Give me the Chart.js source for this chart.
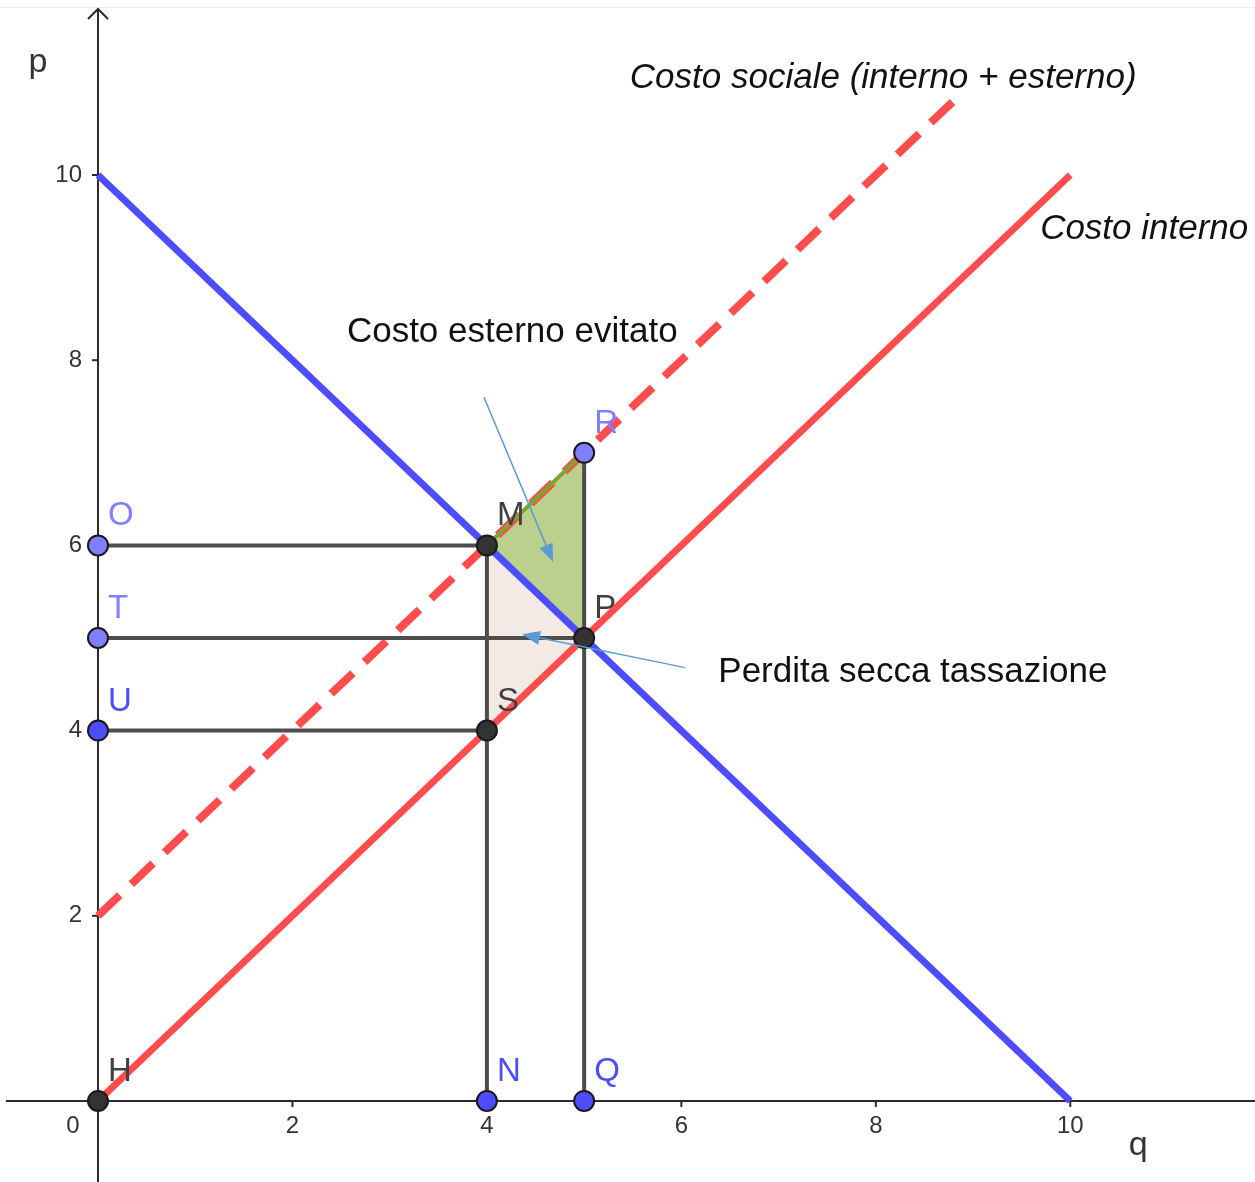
<!DOCTYPE html>
<html>
<head>
<meta charset="utf-8">
<script src="https://cdn.jsdelivr.net/npm/chart.js@4.4.0/dist/chart.umd.min.js"></script>
<style>
  body { margin: 0; background: #fff; }
  #wrap { position: relative; width: 1255px; height: 1182px; }
</style>
</head>
<body>
<div id="wrap"><canvas id="grafico"></canvas></div>
<script>
// curve (domanda, costo interno, costo sociale)
const domandaQ = [0, 10];
const domandaP = [10, 0];
const costoInternoQ = [0, 10];
const costoInternoP = [0, 10];
const costoSocialeQ = [0, 8.8];
const costoSocialeP = [2, 10.8];

// punti
const puntiNomi = ['H', 'N', 'Q', 'O', 'T', 'U', 'M', 'P', 'S', 'R'];
const puntiQ = [0, 4, 5, 0, 0, 0, 4, 5, 4, 5];
const puntiP = [0, 0, 0, 6, 5, 4, 6, 5, 4, 7];
const puntiColori = ['#333333', '#4d4dff', '#4d4dff', '#7f7fff', '#7f7fff', '#4d4dff', '#333333', '#333333', '#333333', '#7f7fff'];

// segmenti grigi [q1, p1, q2, p2]
const segmenti = [
  [0, 6, 4, 6],
  [0, 5, 5, 5],
  [0, 4, 4, 4],
  [4, 0, 4, 6],
  [5, 0, 5, 7]
];

// triangoli
const verdeQ = [4, 5, 5, 4];
const verdeP = [6, 7, 5, 6];
const rosaQ = [4, 5, 4, 4];
const rosaP = [6, 5, 4, 6];

const tickX = [2, 4, 6, 8, 10];
const tickY = [2, 4, 6, 8, 10];

// frecce [q1, p1, q2, p2]
const frecce = [
  [3.97, 7.60, 4.68, 5.82],
  [6.04, 4.68, 4.36, 5.04]
];

const testi = [
  { t: 'Costo sociale (interno + esterno)', q: 5.47, p: 11.04, italic: true },
  { t: 'Costo interno', q: 9.69, p: 9.41, italic: true },
  { t: 'Costo esterno evitato', q: 2.56, p: 8.30, italic: false },
  { t: 'Perdita secca tassazione', q: 6.38, p: 4.63, italic: false }
];

function pts(xs, ys) {
  return xs.map((x, i) => ({ x: x, y: ys[i] }));
}

const datasets = [];

// punti in cima
datasets.push({
  data: pts(puntiQ, puntiP),
  showLine: false,
  pointRadius: 10,
  pointBorderWidth: 2,
  pointBorderColor: '#1a1a1a',
  pointBackgroundColor: puntiColori,
  order: 0
});

datasets.push({
  data: pts([4, 5], [6, 7]),
  showLine: true,
  borderColor: '#79a832',
  borderWidth: 4,
  pointRadius: 0,
  order: 2
});

segmenti.forEach(s => {
  datasets.push({
    data: [{ x: s[0], y: s[1] }, { x: s[2], y: s[3] }],
    showLine: true,
    borderColor: '#4d4d4d',
    borderWidth: 4,
    pointRadius: 0,
    order: 3
  });
});

datasets.push({
  data: pts(domandaQ, domandaP),
  showLine: true,
  borderColor: '#4d4dff',
  borderWidth: 7,
  pointRadius: 0,
  order: 1
});
datasets.push({
  data: pts(costoInternoQ, costoInternoP),
  showLine: true,
  borderColor: '#ff4d4d',
  borderWidth: 7,
  pointRadius: 0,
  order: 4
});
datasets.push({
  data: pts(costoSocialeQ, costoSocialeP),
  showLine: true,
  borderColor: '#ff4d4d',
  borderWidth: 8,
  borderDash: [30, 16],
  pointRadius: 0,
  order: 4
});

datasets.push({
  data: pts(verdeQ, verdeP),
  showLine: true,
  borderWidth: 0,
  borderColor: 'rgba(0,0,0,0)',
  backgroundColor: '#bad08c',
  fill: 'shape',
  pointRadius: 0,
  order: 6
});
datasets.push({
  data: pts(rosaQ, rosaP),
  showLine: true,
  borderWidth: 0,
  borderColor: 'rgba(0,0,0,0)',
  backgroundColor: '#f3e9e5',
  fill: 'shape',
  pointRadius: 0,
  order: 6
});

const FONT = '"Liberation Sans", Arial, sans-serif';

const assi = {
  id: 'assi',
  beforeDatasetsDraw(chart) {
    const { ctx, scales: { x, y } } = chart;
    const x0 = x.getPixelForValue(0);
    const y0 = y.getPixelForValue(0);
    ctx.save();
    // bordo superiore leggero
    ctx.strokeStyle = '#eeeeee';
    ctx.lineWidth = 1;
    ctx.beginPath();
    ctx.moveTo(0, 7.5);
    ctx.lineTo(chart.width, 7.5);
    ctx.stroke();

    ctx.strokeStyle = '#2b2b2b';
    ctx.lineWidth = 2;
    ctx.beginPath();
    ctx.moveTo(x.left + 6, y0);
    ctx.lineTo(x.right, y0);
    ctx.moveTo(x0, y.bottom);
    ctx.lineTo(x0, y.top + 9);
    ctx.stroke();
    // freccia asse p
    ctx.beginPath();
    ctx.moveTo(x0 - 10, y.top + 19);
    ctx.lineTo(x0, y.top + 9);
    ctx.lineTo(x0 + 10, y.top + 19);
    ctx.stroke();

    ctx.fillStyle = '#333333';
    ctx.font = '24px ' + FONT;
    ctx.textBaseline = 'middle';
    ctx.textAlign = 'center';
    tickX.forEach(v => {
      const px = x.getPixelForValue(v);
      ctx.beginPath();
      ctx.moveTo(px, y0);
      ctx.lineTo(px, y0 + 6);
      ctx.stroke();
      ctx.fillText(String(v), px, y0 + 25);
    });
    ctx.fillText('0', x0 - 25, y0 + 25);
    ctx.textAlign = 'right';
    tickY.forEach(v => {
      const py = y.getPixelForValue(v);
      ctx.beginPath();
      ctx.moveTo(x0 - 6, py);
      ctx.lineTo(x0, py);
      ctx.stroke();
      ctx.fillText(String(v), x0 - 16, py);
    });

    ctx.font = '34px ' + FONT;
    ctx.textAlign = 'center';
    ctx.fillText('p', 38, 63);
    ctx.fillText('q', x.getPixelForValue(10.7), y0 + 45);
    ctx.restore();
  },
  afterDatasetsDraw(chart) {
    const { ctx, scales: { x, y } } = chart;
    ctx.save();
    // frecce blu
    ctx.strokeStyle = '#5b9bd5';
    ctx.fillStyle = '#5b9bd5';
    ctx.lineWidth = 1.5;
    frecce.forEach(f => {
      const x1 = x.getPixelForValue(f[0]), y1 = y.getPixelForValue(f[1]);
      const x2 = x.getPixelForValue(f[2]), y2 = y.getPixelForValue(f[3]);
      const a = Math.atan2(y2 - y1, x2 - x1);
      ctx.beginPath();
      ctx.moveTo(x1, y1);
      ctx.lineTo(x2 - 10 * Math.cos(a), y2 - 10 * Math.sin(a));
      ctx.stroke();
      ctx.beginPath();
      ctx.moveTo(x2, y2);
      ctx.lineTo(x2 - 18 * Math.cos(a) + 7 * Math.sin(a), y2 - 18 * Math.sin(a) - 7 * Math.cos(a));
      ctx.lineTo(x2 - 18 * Math.cos(a) - 7 * Math.sin(a), y2 - 18 * Math.sin(a) + 7 * Math.cos(a));
      ctx.closePath();
      ctx.fill();
    });

    // etichette punti
    ctx.font = '33px ' + FONT;
    ctx.textAlign = 'left';
    ctx.textBaseline = 'middle';
    puntiNomi.forEach((n, i) => {
      const px = x.getPixelForValue(puntiQ[i]);
      const py = y.getPixelForValue(puntiP[i]);
      ctx.fillStyle = puntiColori[i] === '#333333' ? '#404040' : puntiColori[i];
      ctx.fillText(n, px + 10, py - 29);
    });

    // testi
    ctx.fillStyle = '#111111';
    testi.forEach(t => {
      ctx.font = (t.italic ? 'italic ' : '') + '35px ' + FONT;
      ctx.fillText(t.t, x.getPixelForValue(t.q), y.getPixelForValue(t.p));
    });
    ctx.restore();
  }
};

new Chart(document.getElementById('grafico'), {
  type: 'scatter',
  data: { datasets: datasets },
  options: {
    responsive: true,
    maintainAspectRatio: false,
    animation: false,
    layout: { padding: 0, autoPadding: false },
    plugins: { legend: { display: false }, tooltip: { enabled: false } },
    scales: {
      x: { type: 'linear', min: -1.008, max: 11.9, display: false },
      y: { type: 'linear', min: -0.875, max: 11.89, display: false }
    }
  },
  plugins: [assi]
});
</script>
</body>
</html>
